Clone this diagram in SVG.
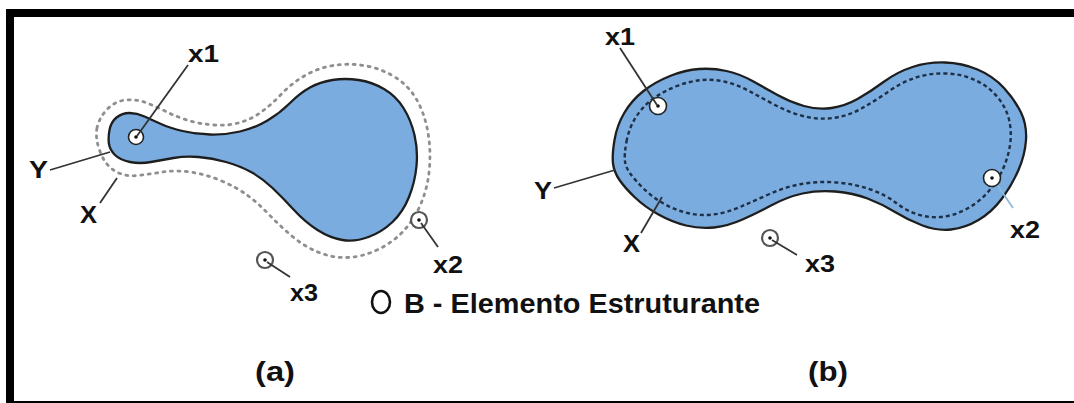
<svg xmlns="http://www.w3.org/2000/svg" width="1074" height="403" viewBox="0 0 1074 403">
<style>
.lbl{font-family:"Liberation Sans",Arial,sans-serif;font-weight:bold;font-size:24px;fill:#111}
.cap{font-family:"Liberation Sans",Arial,sans-serif;font-weight:bold;font-size:28px;fill:#111}
.blob{fill:#7aacdf;stroke:#1e1e1e;stroke-width:2.3;stroke-linejoin:round}
.dotted{fill:none;stroke:#8f8f8f;stroke-width:2.8;stroke-dasharray:2 5.5;stroke-linecap:round}
.dashed{fill:none;stroke:#1f2f45;stroke-width:2.4;stroke-dasharray:4 3}
.ring{fill:#fff;stroke:#222;stroke-width:1.6}
.gring{fill:#fff;stroke:#555;stroke-width:2.2}
.dot{fill:#111}
.lead{stroke:#333;stroke-width:1.8;fill:none}
</style>
<rect width="1074" height="403" fill="#fff"/>
<g id="frame" fill="#000">
<rect x="6" y="9" width="1068" height="8"/>
<rect x="6" y="9" width="8" height="394"/>
<rect x="6" y="401" width="1068" height="2"/>
</g>
<g id="panel-a-dilation-X">
<path class="dotted" d="M97,128 Q99,118 107,109.5 Q115,101 126,100 Q137,99 147,103 Q157,107 167,112 Q177,117 188.5,120.5 Q200,124 214,125 Q228,126 240,122.5 Q252,119 262,111.5 Q272,104 282,93.5 Q292,83 305,75.5 Q318,68 333,65.5 Q348,63 364,65.5 Q380,68 394,76.5 Q408,85 416,98.5 Q424,112 427.5,130 Q431,148 429.5,167.5 Q428,187 421,203.5 Q414,220 403,231.5 Q392,243 377,250 Q362,257 347.5,257.5 Q333,258 319,252.5 Q305,247 292.5,236.5 Q280,226 269,214.5 Q258,203 247,195 Q236,187 220.5,180.5 Q205,174 190,172 Q175,170 162.5,172 Q150,174 137.5,175.5 Q125,177 115,171 Q105,165 100,151.5 Q95,138 97,128 Z"/>
</g>
<g id="panel-a-Y">
<path class="blob" d="M109.5,130 Q111,122 116.5,117.5 Q122,113 129.5,113 Q137,113 144.5,116.5 Q152,120 161,124 Q170,128 182.5,131 Q195,134 210,134.5 Q225,135 240,131.5 Q255,128 267.5,120.5 Q280,113 290,103 Q300,93 310,87.5 Q320,82 332.5,80 Q345,78 358.5,80 Q372,82 384,89 Q396,96 403.5,108 Q411,120 414.5,135 Q418,150 416.5,166 Q415,182 409,197 Q403,212 392.5,222 Q382,232 368.5,237 Q355,242 342.5,240 Q330,238 317.5,230 Q305,222 294,210 Q283,198 272.5,188 Q262,178 251,172 Q240,166 226,162 Q212,158 198.5,157 Q185,156 173.5,158 Q162,160 151,162 Q140,164 130,162 Q120,160 115,155 Q110,150 109,144 Q108,138 109.5,130 Z"/>
</g>
<g id="panel-b-Y">
<path class="blob" d="M614.5,140 Q617,125 624.5,112.5 Q632,100 643.5,91 Q655,82 670,76 Q685,70 699,69 Q713,68 726.5,71 Q740,74 752.5,81 Q765,88 777.5,95 Q790,102 804,106 Q818,110 831.5,108 Q845,106 857.5,99 Q870,92 883.5,82 Q897,72 912.5,67 Q928,62 945,62.5 Q962,63 977.5,69.5 Q993,76 1004,88 Q1015,100 1021,112.5 Q1027,125 1026,140 Q1025,155 1018.5,170 Q1012,185 1002,198.5 Q992,212 978.5,220 Q965,228 951,229.5 Q937,231 922.5,225.5 Q908,220 895,212 Q882,204 867.5,198.5 Q853,193 835.5,191.5 Q818,190 802.5,193.5 Q787,197 772,205 Q757,213 742.5,219.5 Q728,226 714,227.5 Q700,229 686,225.5 Q672,222 658.5,214.5 Q645,207 635,197.5 Q625,188 619.5,180 Q614,172 613,163.5 Q612,155 614.5,140 Z"/>
</g>
<g id="panel-b-erosion-X">
<path class="dashed" d="M626.5,141.5 Q629,128 636,117 Q643,106 653.5,98.5 Q664,91 677,86 Q690,81 702,80 Q714,79 726,82 Q738,85 750,91.5 Q762,98 775,105 Q788,112 803,116 Q818,120 833,118 Q848,116 861.5,108.5 Q875,101 888.5,91.5 Q902,82 916,77.5 Q930,73 946,73.5 Q962,74 975,80 Q988,86 997,96.5 Q1006,107 1009,119.5 Q1012,132 1010,145 Q1008,158 1002.5,170 Q997,182 987.5,192.5 Q978,203 965.5,209.5 Q953,216 940.5,217 Q928,218 916.5,214 Q905,210 895.5,202.5 Q886,195 870.5,189.5 Q855,184 836.5,182.5 Q818,181 801.5,184 Q785,187 769.5,194 Q754,201 740,207 Q726,213 713,214.5 Q700,216 687.5,213 Q675,210 663.5,203.5 Q652,197 643.5,188.5 Q635,180 630.5,174 Q626,168 625,161.5 Q624,155 626.5,141.5 Z"/>
</g>
<g id="a-x1"><circle class="ring" cx="136" cy="137" r="7.5"/><circle class="dot" cx="136" cy="137" r="1.8"/></g>
<g id="a-x2"><circle class="gring" cx="419" cy="220" r="8"/><circle class="dot" cx="419" cy="220" r="1.8"/></g>
<g id="a-x3"><circle class="gring" cx="265" cy="260" r="8"/><circle class="dot" cx="265" cy="260" r="1.8"/></g>
<g id="b-x1"><circle class="ring" cx="658" cy="106" r="8.5"/><circle class="dot" cx="658" cy="106" r="1.8"/></g>
<g id="b-x2"><circle class="ring" cx="992" cy="178" r="8.5"/><circle class="dot" cx="992" cy="178" r="1.8"/></g>
<g id="b-x3"><circle class="gring" cx="770" cy="238" r="8"/><circle class="dot" cx="770" cy="238" r="1.8"/></g>
<g id="connectors">
<line class="lead" x1="137" y1="136" x2="188" y2="65"/>
<line class="lead" x1="50" y1="170" x2="110" y2="152"/>
<line class="lead" x1="100" y1="203" x2="117" y2="178"/>
<line class="lead" x1="421" y1="223" x2="438" y2="247"/>
<line class="lead" x1="267" y1="262" x2="290" y2="277"/>
<line class="lead" x1="620" y1="48" x2="657" y2="105"/>
<line class="lead" x1="554" y1="188" x2="615" y2="170"/>
<line class="lead" x1="641" y1="233" x2="662" y2="197"/>
<line class="lead" x1="998" y1="186" x2="1013" y2="208" style="stroke:#8fb8dc"/>
<line class="lead" x1="772" y1="240" x2="797" y2="255"/>
</g>
<g id="labels">
<text class="lbl" x="188" y="62" textLength="31" lengthAdjust="spacingAndGlyphs">x1</text>
<text class="lbl" x="29" y="178" textLength="19" lengthAdjust="spacingAndGlyphs">Y</text>
<text class="lbl" x="80" y="223" textLength="17" lengthAdjust="spacingAndGlyphs">X</text>
<text class="lbl" x="433" y="273" textLength="30" lengthAdjust="spacingAndGlyphs">x2</text>
<text class="lbl" x="290" y="301" textLength="28" lengthAdjust="spacingAndGlyphs">x3</text>
<text class="lbl" x="605" y="45" textLength="30" lengthAdjust="spacingAndGlyphs">x1</text>
<text class="lbl" x="534" y="199" textLength="18" lengthAdjust="spacingAndGlyphs">Y</text>
<text class="lbl" x="623" y="252" textLength="17" lengthAdjust="spacingAndGlyphs">X</text>
<text class="lbl" x="1010" y="238" textLength="30" lengthAdjust="spacingAndGlyphs">x2</text>
<text class="lbl" x="805" y="272" textLength="30" lengthAdjust="spacingAndGlyphs">x3</text>
</g>
<g id="legend">
<ellipse cx="381" cy="302" rx="9" ry="11" fill="none" stroke="#111" stroke-width="2.6"/>
<text class="cap" x="404" y="313" textLength="356" lengthAdjust="spacingAndGlyphs">B - Elemento Estruturante</text>
</g>
<g id="captions">
<text class="cap" x="255" y="381" textLength="40" lengthAdjust="spacingAndGlyphs">(a)</text>
<text class="cap" x="808" y="381" textLength="40" lengthAdjust="spacingAndGlyphs">(b)</text>
</g>
</svg>
